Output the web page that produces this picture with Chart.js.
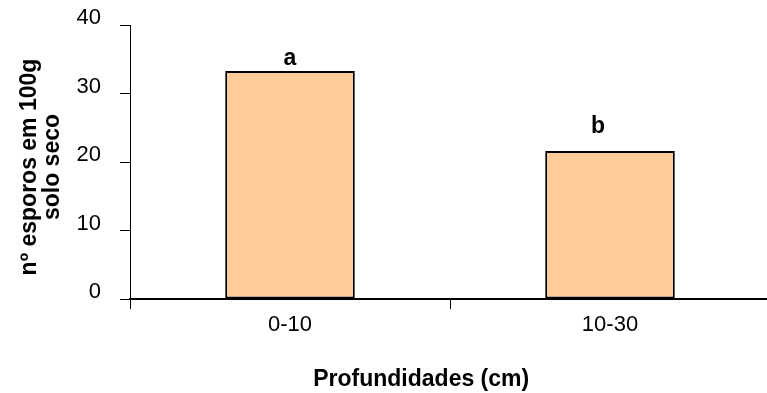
<!DOCTYPE html>
<html>
<head>
<meta charset="utf-8">
<script src="https://cdn.jsdelivr.net/npm/chart.js@4/dist/chart.umd.min.js"></script>
<style>
  html, body { margin: 0; padding: 0; background: #fff; overflow: hidden; }
  #wrap { width: 780px; height: 393px; }
</style>
</head>
<body>
<div id="wrap"><canvas id="chart" width="780" height="393"></canvas></div>
<script>
// Spore counts per soil depth
const categories = ['0-10', '10-30'];
const sporeCounts = [33.3, 21.6];
const significance = ['a', 'b'];
const yTickValues = [0, 10, 20, 30, 40];
const xTitle = 'Profundidades (cm)';
const yTitle = ['nº esporos em 100g', 'solo seco'];

const FONT = '"Liberation Sans", Arial, Helvetica, sans-serif';
Chart.defaults.font.family = FONT;
Chart.defaults.color = '#000';

// Axis titles and significance letters
const annotate = {
  id: 'annotate',
  afterDraw(chart) {
    const { ctx, chartArea: a } = chart;
    ctx.save();
    ctx.fillStyle = '#000';

    ctx.font = 'bold 23px ' + FONT;
    ctx.textAlign = 'center';
    ctx.textBaseline = 'middle';
    ctx.fillText(xTitle, a.left + (a.right - a.left) * 0.455, a.bottom + 81);

    ctx.translate(29.5, (a.top + a.bottom) / 2 + 5);
    ctx.rotate(-Math.PI / 2);
    yTitle.forEach((line, i) => ctx.fillText(line, 0, i * 23));
    ctx.restore();

    ctx.save();
    ctx.fillStyle = '#000';
    ctx.font = 'bold 23px ' + FONT;
    ctx.textAlign = 'center';
    ctx.textBaseline = 'alphabetic';
    const nudges = [{ dx: 0, dy: 6 }, { dx: -12, dy: 18 }];
    chart.getDatasetMeta(0).data.forEach((bar, i) => {
      const n = nudges[i];
      ctx.fillText(significance[i], bar.x + n.dx, bar.y - n.dy);
    });
    ctx.restore();
  }
};

new Chart(document.getElementById('chart'), {
  type: 'bar',
  data: {
    labels: categories,
    datasets: [{
      data: sporeCounts,
      backgroundColor: '#FFCC99',
      borderColor: '#000',
      borderWidth: 2,
      borderSkipped: false,
      categoryPercentage: 1,
      barPercentage: 0.405
    }]
  },
  options: {
    responsive: false,
    animation: false,
    events: [],
    layout: { padding: { top: 25, right: 10, bottom: 0, left: 0 } },
    plugins: { legend: { display: false }, tooltip: { enabled: false } },
    scales: {
      x: {
        afterFit(scale) {
          scale.height = 94;
          scale.paddingLeft = 0;
          scale.paddingRight = 0;
        },
        grid: { drawOnChartArea: false, tickLength: 10, color: '#000', lineWidth: 1 },
        border: { color: '#000', width: 2 },
        ticks: { font: { size: 22 }, color: '#000', padding: 3 }
      },
      y: {
        min: yTickValues[0],
        max: yTickValues[yTickValues.length - 1],
        afterFit(scale) {
          scale.width = 130;
          scale.paddingTop = 0;
          scale.paddingBottom = 0;
        },
        afterBuildTicks(scale) { scale.ticks = yTickValues.map(v => ({ value: v })); },
        grid: { drawOnChartArea: false, tickLength: 10, color: '#000', lineWidth: 1 },
        border: { color: '#000', width: 1 },
        ticks: { font: { size: 22 }, color: '#000', padding: 19, labelOffset: -7 }
      }
    }
  },
  plugins: [annotate]
});
</script>
</body>
</html>
